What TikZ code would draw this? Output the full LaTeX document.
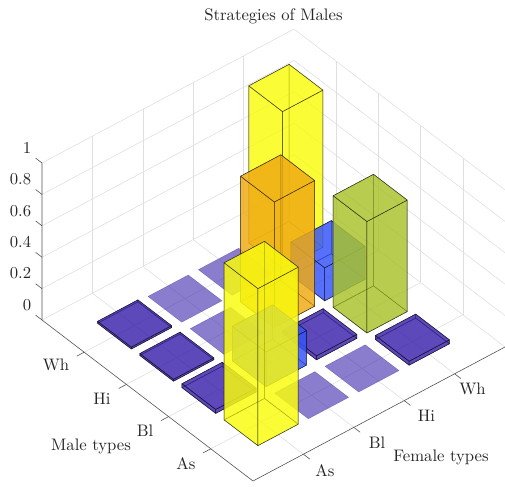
\documentclass[tikz,border=0pt]{standalone}
\definecolor{tilecol}{RGB}{62,38,172}
\definecolor{bluecol}{RGB}{55,85,250}
\definecolor{yelcol}{RGB}{249,251,14}
\definecolor{orcol}{RGB}{240,170,20}
\definecolor{grcol}{RGB}{170,195,45}
\definecolor{gridcol}{RGB}{223,223,223}
\definecolor{axcol}{RGB}{38,38,38}
\tikzset{
  face/.style={fill=#1, fill opacity=0.6, draw=black, draw opacity=0.6, line width=0.3pt, line join=round},
  flatface/.style={fill=tilecol, fill opacity=0.6, draw=tilecol!60!black, draw opacity=0.3, line width=0.3pt, line join=round},
  gridline/.style={draw=gridcol, line width=0.35pt},
  axisline/.style={draw=axcol!80, line width=0.35pt},
  lbl/.style={text=axcol, inner sep=0pt},
}
\newcommand\drawbox[4]{%
  \pgfmathsetmacro\qa{#1-0.4}\pgfmathsetmacro\qA{#1+0.4}%
  \pgfmathsetmacro\qb{#2-0.4}\pgfmathsetmacro\qB{#2+0.4}%
  \def\qh{#3}%
  \path[face=#4] (\qa,\qb,0) -- (\qA,\qb,0) -- (\qA,\qB,0) -- (\qa,\qB,0) -- cycle;
  \path[face=#4] (\qa,\qb,0) -- (\qa,\qB,0) -- (\qa,\qB,\qh) -- (\qa,\qb,\qh) -- cycle;
  \path[face=#4] (\qa,\qB,0) -- (\qA,\qB,0) -- (\qA,\qB,\qh) -- (\qa,\qB,\qh) -- cycle;
  \path[face=#4] (\qa,\qb,0) -- (\qA,\qb,0) -- (\qA,\qb,\qh) -- (\qa,\qb,\qh) -- cycle;
  \path[face=#4] (\qA,\qb,0) -- (\qA,\qB,0) -- (\qA,\qB,\qh) -- (\qA,\qb,\qh) -- cycle;
  \path[face=#4] (\qa,\qb,\qh) -- (\qA,\qb,\qh) -- (\qA,\qB,\qh) -- (\qa,\qB,\qh) -- cycle;
}
\newcommand\flattile[2]{%
  \pgfmathsetmacro\qa{#1-0.4}\pgfmathsetmacro\qA{#1+0.4}%
  \pgfmathsetmacro\qb{#2-0.4}\pgfmathsetmacro\qB{#2+0.4}%
  \path[flatface] (\qa,\qb,0) -- (\qA,\qb,0) -- (\qA,\qB,0) -- (\qa,\qB,0) -- cycle;
}
\begin{document}
\begin{tikzpicture}
\useasboundingbox (-25.2pt,-100.2pt) rectangle (277.8pt,192pt);
\begin{scope}[x={(25.32pt,-19.32pt)}, y={(30.24pt,16.08pt)}, z={(0pt,94.2pt)}]
  % grid
  \foreach \k in {1,2,3,4} {
    \draw[gridline] (\k,0,0) -- (\k,5,0);
    \draw[gridline] (0,\k,0) -- (5,\k,0);
    \draw[gridline] (0,\k,0) -- (0,\k,1);
    \draw[gridline] (\k,5,0) -- (\k,5,1);
  }
  \foreach \z in {0,0.2,0.4,0.6,0.8,1} {
    \draw[gridline] (0,0,\z) -- (0,5,\z) -- (5,5,\z);
  }
  % axes
  \draw[axisline] (0,0,1) -- (0,0,0) -- (5,0,0) -- (5,5,0);
  \foreach \z in {0,0.2,0.4,0.6,0.8,1} { \draw[axisline] (0,0,\z) -- (-0.15,0,\z); }
  \foreach \k in {1,2,3,4} {
    \draw[axisline] (\k,0,0) -- (\k,-0.15,0);
    \draw[axisline] (5,\k,0) -- (5.15,\k,0);
  }
  % bars, back to front
  \drawbox{1}{4}{1}{yelcol}
  \flattile{1}{3}
  \drawbox{2}{4}{0.21}{bluecol}
  \flattile{1}{2}
  \drawbox{2}{3}{0.8}{orcol}
  \drawbox{3}{4}{0.71}{grcol}
  \drawbox{1}{1}{0.012}{tilecol}
  \flattile{2}{2}
  \drawbox{3}{3}{0.025}{tilecol}
  \drawbox{4}{4}{0.025}{tilecol}
  \drawbox{2}{1}{0.012}{tilecol}
  \drawbox{3}{2}{0.22}{bluecol}
  \flattile{4}{3}
  \drawbox{3}{1}{0.025}{tilecol}
  \flattile{4}{2}
  \drawbox{4}{1}{1}{yelcol}
\end{scope}
\begin{scope}[shift={(-25.2pt,192pt)}, x=0.6pt, y=-0.6pt]
  \node[lbl, anchor=base] (title) at (273.5,20.5) {Strategies of Males};
  \node[lbl, anchor=east] (z0) at (31.5,305) {0};
  \node[lbl, anchor=east] (z2) at (31.5,273.6) {0.2};
  \node[lbl, anchor=east] (z4) at (31.5,242.2) {0.4};
  \node[lbl, anchor=east] (z6) at (31.5,210.8) {0.6};
  \node[lbl, anchor=east] (z8) at (31.5,179.4) {0.8};
  \node[lbl, anchor=east] (z10) at (31.5,148) {1};
  \node[lbl] (mwh) at (56,365) {Wh};
  \node[lbl] (mhi) at (102,399) {Hi};
  \node[lbl] (mbl) at (145,431) {Bl};
  \node[lbl] (mas) at (186,464) {As};
  \node[lbl, anchor=base] (mtitle) at (91,450.5) {Male types};
  \node[lbl] (fas) at (325,471) {As};
  \node[lbl] (fbl) at (377,443) {Bl};
  \node[lbl] (fhi) at (426.5,416) {Hi};
  \node[lbl] (fwh) at (472.5,389) {Wh};
  \node[lbl, anchor=base] (ftitle) at (441,461.5) {Female types};
\end{scope}
\end{tikzpicture}
\end{document}
